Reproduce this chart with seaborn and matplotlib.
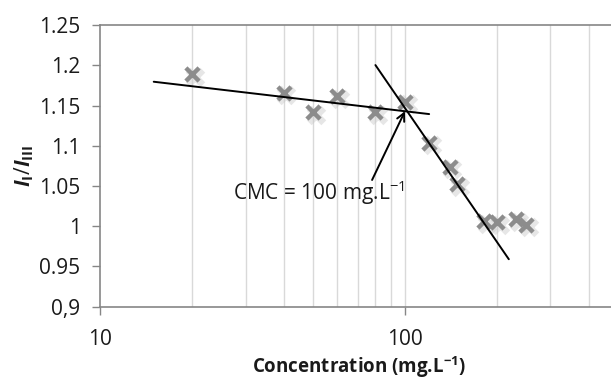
import matplotlib
matplotlib.use("Agg")
import matplotlib.pyplot as plt
import matplotlib.transforms as mtransforms
from matplotlib.ticker import FixedLocator, NullFormatter
import seaborn as sns
import pandas as pd

# --- Data ---
conc = [20, 40, 50, 60, 80, 100, 120, 140, 148, 182, 200, 231, 249]
ratio = [1.189, 1.166, 1.142, 1.162, 1.142, 1.155, 1.104, 1.074, 1.052, 1.006, 1.005, 1.009, 1.002]

# trend lines (end points)
pre_x = [15, 120]
pre_y = [1.1796, 1.1394]
post_x = [80, 219]
post_y = [1.2003, 0.959]

cmc_value = 100
cmc_y = 1.143
y_ticks = [0.9, 0.95, 1.0, 1.05, 1.1, 1.15, 1.2, 1.25]
y_labels = ["0,9", "0.95", "1", "1.05", "1.1", "1.15", "1.2", "1.25"]
minor_x = [20, 30, 40, 50, 60, 70, 80, 90, 200, 300, 400]

df = pd.DataFrame({"conc": conc, "ratio": ratio})

# --- Style ---
sns.set_theme(style="white")
plt.rcParams["font.family"] = ["Open Sans", "DejaVu Sans"]
plt.rcParams["mathtext.fontset"] = "custom"
plt.rcParams["mathtext.rm"] = "Open Sans"
plt.rcParams["mathtext.it"] = "Open Sans:italic"
plt.rcParams["mathtext.bf"] = "Open Sans:bold"
plt.rcParams["mathtext.bfit"] = "Open Sans:italic:bold"

fig = plt.figure(figsize=(6.11, 3.79), dpi=100)
ax = fig.add_axes([0.1637, 0.1908, 0.848, 0.743])
ax.set_xscale("log")
ax.set_xlim(10, 500)
ax.set_ylim(0.9, 1.25)

# vertical grid
for xv in minor_x + [100]:
    ax.axvline(xv, color="#d9d9d9", linewidth=1.0, zorder=0)

# shadow behind markers
shadow = mtransforms.offset_copy(ax.transData, fig=fig, x=2, y=-2, units="points")
ax.scatter(conc, ratio, marker="x", s=110, linewidths=5, color="#c8c8c8",
           alpha=0.45, transform=shadow, zorder=2)
sns.scatterplot(data=df, x="conc", y="ratio", marker="x", s=90, linewidth=3.2,
                color="#8c8c8c", ax=ax, zorder=3)

# trend lines
sns.lineplot(x=pre_x, y=pre_y, color="black", linewidth=1.4, ax=ax, zorder=4)
sns.lineplot(x=post_x, y=post_y, color="black", linewidth=1.4, ax=ax, zorder=4)

# CMC annotation
ax.annotate("", xy=(cmc_value, cmc_y), xytext=(78, 1.0575),
            arrowprops=dict(arrowstyle="->", color="black", linewidth=1.4,
                            shrinkA=0, shrinkB=0, mutation_scale=14),
            zorder=5)
ax.text(27.3, 1.0413, "CMC = 100 mg.L$^{-1}$", fontsize=15, ha="left", va="center",
        color="#1a1a1a", zorder=5)

# axes cosmetics
ax.set_yticks(y_ticks)
ax.set_yticklabels(y_labels)
ax.xaxis.set_major_locator(FixedLocator([10, 100]))
ax.set_xticklabels(["10", "100"])
ax.xaxis.set_minor_locator(FixedLocator(minor_x))
ax.xaxis.set_minor_formatter(NullFormatter())
ax.tick_params(axis="y", which="major", direction="out", length=6, width=1,
               color="#868686", labelsize=15, pad=8, left=True, labelcolor="#1a1a1a")
ax.tick_params(axis="x", which="major", direction="out", length=6, width=1,
               color="#868686", labelsize=15, pad=10, bottom=True, labelcolor="#1a1a1a")
ax.tick_params(axis="x", which="minor", length=0)

for side in ["left", "bottom", "top"]:
    ax.spines[side].set_color("#868686")
    ax.spines[side].set_linewidth(1.2)
ax.spines["right"].set_visible(False)

ax.set_xlabel("Concentration (mg.L$^{\\mathbf{-1}}$)", fontsize=13.5, fontweight="bold",
              labelpad=3, color="#1a1a1a")
ax.set_ylabel("$\\mathbfit{I}_{\\mathbf{I}}/\\mathbfit{I}_{\\mathbf{III}}$", fontsize=15,
              labelpad=2, color="#1a1a1a")

fig.savefig("out.png", dpi=100)
